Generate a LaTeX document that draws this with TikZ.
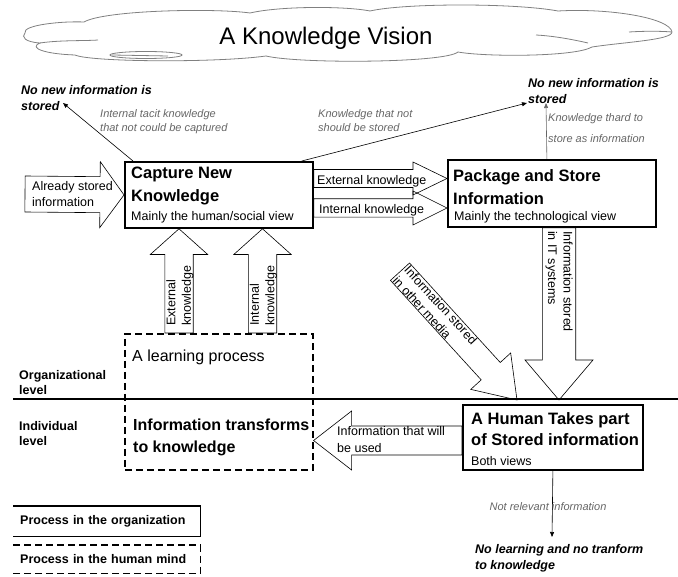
\documentclass[tikz,border=0pt]{standalone}
\usepackage{fontspec}
\setmainfont{Liberation Sans}
\usetikzlibrary{calc,arrows.meta}

\definecolor{notegray}{gray}{0.4}
\definecolor{cloudgray}{gray}{0.5}

% block arrow: [style]{tail}{tip}{body half width}{head half width}{head length}
\newcommand{\blockarr}[6][]{%
  \coordinate (ba-h) at ($(#3)!#6pt!(#2)$);
  \draw[blockline,#1] ($(#2)!#4pt!90:(#3)$) -- ($(ba-h)!#4pt!90:(#3)$)
    -- ($(ba-h)!#5pt!90:(#3)$) -- (#3) -- ($(ba-h)!#5pt!-90:(#3)$)
    -- ($(ba-h)!#4pt!-90:(#3)$) -- ($(#2)!#4pt!-90:(#3)$) -- cycle;
}

\tikzset{
  procbox/.style={draw, line width=1.8pt, inner sep=0pt, anchor=north west},
  mindbox/.style={draw, line width=1.6pt, dash pattern=on 7pt off 4pt, inner sep=0pt, anchor=north west},
  boxtitle/.style={font=\fontsize{16.5}{23}\selectfont\bfseries, align=left, inner sep=0pt, anchor=north west},
  boxsub/.style={font=\fontsize{12.5}{15}\selectfont, inner sep=0pt, anchor=base west},
  lbl/.style={font=\fontsize{12.5}{16}\selectfont, align=left, inner sep=0pt},
  note/.style={font=\fontsize{11}{14}\selectfont\itshape, text=notegray, align=left, inner sep=0pt, anchor=north west},
  outcome/.style={font=\fontsize{12.5}{16.5}\selectfont\bfseries\itshape, align=left, inner sep=0pt, anchor=north west},
  levellbl/.style={font=\fontsize{12.5}{15.5}\selectfont\bfseries, align=left, inner sep=0pt, anchor=north west},
  legbox/.style={anchor=north west, minimum width=187pt, text width=173pt, inner xsep=7pt, inner ysep=0pt, align=left, font=\fontsize{12.5}{15}\selectfont\bfseries},
  blockline/.style={draw=black, line width=0.6pt, line join=miter},
  thinarrow/.style={line width=0.6pt, -{Triangle[length=5pt,width=4pt]}},
  cloudline/.style={draw=cloudgray, line width=0.8pt},
}

\begin{document}
\begin{tikzpicture}[x=1pt, y=-1pt]
\useasboundingbox (0,0) rectangle (678,577);

% the cloud
\draw[cloudline] (25,33)
  .. controls (22,25) and (62,21) .. (84,22)
  .. controls (105,10) and (215,8) .. (250,13)
  .. controls (280,6) and (345,6) .. (370,11)
  .. controls (405,3) and (515,3) .. (558,11)
  .. controls (610,8) and (670,18) .. (672,32)
  .. controls (672,40) and (625,42) .. (592,47)
  .. controls (575,57) and (485,57) .. (458,52)
  .. controls (445,63) and (300,64) .. (266,56)
  .. controls (215,63) and (90,62) .. (75,55)
  .. controls (45,54) and (28,48) .. (40,43)
  .. controls (25,42) and (21,37) .. (25,33) -- cycle;
\draw[cloudline] (40,43) .. controls (60,40) and (85,41) .. (98,40);
\draw[cloudline] (629,32) .. controls (645,31) and (660,31) .. (672,32);
\draw[cloudline] (536,35) .. controls (555,36) and (575,40) .. (588,43);
\draw[cloudline] (146,55) ellipse [x radius=36, y radius=3.5];
\draw[cloudline] (112,55) -- (168,56);
\node[font=\fontsize{24}{28}\selectfont, inner sep=0pt, anchor=base] (vision) at (326,45) {A Knowledge Vision};

% process boxes
\node[procbox, minimum width=188pt, minimum height=66pt] (capture) at (124,161) {};
\node[boxtitle] (capturetl) at (131,167) {Capture New\\Knowledge};
\node[boxsub] (capturesb) at (131,221) {Mainly the human/social view};

\node[procbox, minimum width=208pt, minimum height=67pt] (package) at (447,159) {};
\node[boxtitle] (packagetl) at (453,169) {Package and Store\\Information};
\node[boxsub] (packagesb) at (454,221) {Mainly the technological view};

\node[procbox, minimum width=180pt, minimum height=65pt] (human) at (462,404) {};
\node[boxtitle, font=\fontsize{16.5}{21.7}\selectfont\bfseries] (humantl) at (471,412) {A Human Takes part\\of Stored information};
\node[boxsub] (humansb) at (471,465) {Both views};

\node[mindbox, minimum width=188pt, minimum height=136pt] (mind) at (124,333) {};
\node[font=\fontsize{16}{20}\selectfont, inner sep=0pt, anchor=base west] (learnlbl) at (132,362) {A learning process};
\node[boxtitle, font=\fontsize{16}{21.5}\selectfont\bfseries] (transflbl) at (133,419) {Information transforms\\to knowledge};

% levels
\draw[line width=1.5pt] (13,399) -- (678,399);
\node[levellbl] (orglevel) at (19,370) {Organizational\\level};
\node[levellbl] (indlevel) at (19,421) {Individual\\level};

% block arrows
\coordinate (asA) at (25,194);
\blockarr{asA}{capture.west}{18}{33}{24}
\node[lbl, anchor=north west] (aslbl) at (32,181) {Already stored\\information};

\coordinate (ekA) at (capture.east |- 0,178.5);
\coordinate (ekB) at (package.west |- 0,178.5);
\blockarr{ekA}{ekB}{9}{16.5}{34}
\node[lbl, anchor=base west] (eklbl) at (317,184.5) {External knowledge};

\coordinate (ikA) at (capture.east |- 0,208);
\coordinate (ikB) at (package.west |- 0,208);
\blockarr{ikA}{ikB}{9.2}{17}{34}
\node[lbl, anchor=base west] (iklbl) at (319,213.5) {Internal knowledge};

\coordinate (xuA) at (179,0 |- mind.north);
\coordinate (xuB) at (179,0 |- capture.south);
\blockarr{xuA}{xuB}{14.2}{28.7}{25.7}
\node[lbl, font=\fontsize{12.5}{15.5}\selectfont, rotate=90, anchor=west] (xulbl) at (180,326) {External\\knowledge};

\coordinate (iuA) at (262.5,0 |- mind.north);
\coordinate (iuB) at (262.5,0 |- capture.south);
\blockarr{iuA}{iuB}{14.2}{28.7}{25.7}
\node[lbl, font=\fontsize{12.5}{15.5}\selectfont, rotate=90, anchor=west] (iulbl) at (263.5,326) {Internal\\knowledge};

\coordinate (itA) at (559,0 |- package.south);
\coordinate (itB) at (559,400);
\blockarr{itA}{itB}{16.7}{34}{40}
\node[lbl, font=\fontsize{12.5}{15.5}\selectfont, rotate=-90, anchor=west] (itlbl) at (559,231) {Information stored\\in IT systems};

\coordinate (omA) at (400,271.7);
\coordinate (omB) at (517,400);
\blockarr{omA}{omB}{12.9}{27}{39}
\node[lbl, font=\fontsize{12.5}{15.5}\selectfont, rotate=-47.6, anchor=west] (omlbl) at (401,273) {Information stored\\in other media};

\coordinate (useA) at (human.west |- 0,440.5);
\coordinate (useB) at (mind.east |- 0,440.5);
\blockarr{useA}{useB}{14.5}{29.5}{38}
\node[lbl, font=\fontsize{12.5}{17}\selectfont, anchor=north west] (uselbl) at (337,426) {Information that will\\be used};

% what is not taken further
\node[outcome] (nostoreL) at (21,85) {No new information is\\stored};
\node[outcome] (nostoreR) at (528,78) {No new information is\\stored};
\node[outcome] (nolearn) at (475,544) {No learning and no tranform\\to knowledge};

\node[note] (tacit) at (100,109) {Internal tacit knowledge\\that not could be captured};
\node[note] (notstore) at (318,109) {Knowledge that not\\should be stored};
\node[note, font=\fontsize{11}{21.5}\selectfont\itshape] (hardstore) at (548,113) {Knowledge thard to\\store as information};
\node[note, anchor=base] (notrel) at (548,510) {Not relevant information};

\coordinate (tacitEnd) at (63,103);
\draw[thinarrow] ($(capture.north west)+(9,0)$) -- (tacitEnd);
\coordinate (notstoreEnd) at (527,103);
\draw[thinarrow] ($(capture.north east)+(-12,0)$) -- (notstoreEnd);
\coordinate (hardEnd) at (546,103);
\draw[thinarrow, draw=notegray] ($(package.north)+(-5,0)$) -- (hardEnd);
\coordinate (notrelEnd) at (552,537);
\draw[thinarrow] (human.south) -- (notrelEnd);

% legend
\node[legbox, minimum height=30pt] (legorg) at (13,506) {Process in the organization};
\draw[line width=1.6pt] (legorg.north west) -- (legorg.north east) -- (legorg.south east) -- (legorg.south west);
\node[legbox, minimum height=28pt] (legmind) at (13,545) {Process in the human mind};
\draw[line width=1.6pt, dash pattern=on 7pt off 4pt] (legmind.north west) -- (legmind.north east) -- (legmind.south east) -- (legmind.south west);
\end{tikzpicture}
\end{document}
